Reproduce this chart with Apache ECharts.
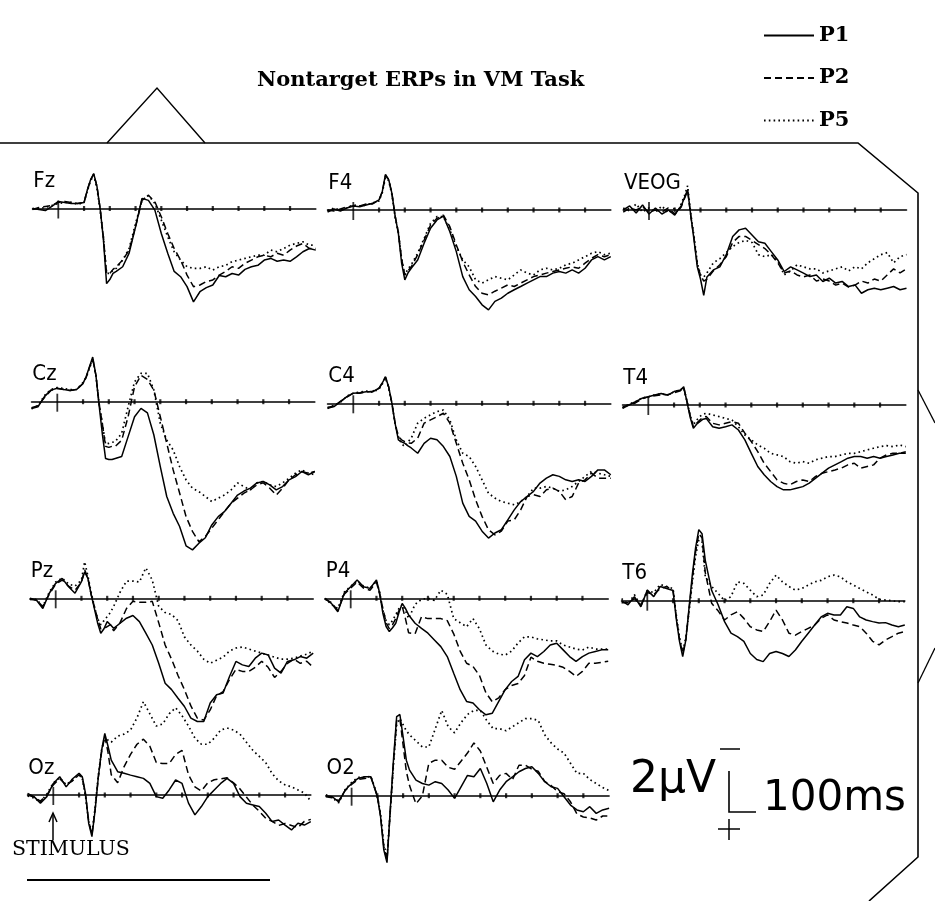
<!DOCTYPE html>
<html><head><meta charset="utf-8">
<script src="https://cdn.jsdelivr.net/npm/echarts@6/dist/echarts.min.js"></script>
<style>html,body{margin:0;padding:0;background:#fff}#c{width:935px;height:901px}</style>
</head><body><div id="c"></div>
<script>
// time (ms) of each sample
const times = [-100,-75,-50,-25,0,25,50,75,100,112.5,125,137.5,150,162.5,175,187.5,200,212.5,225,250,275,300,325,350,375,400,425,450,475,500,525,550,575,600,625,650,675,700,725,750,775,800,825,850,875,900,925,950,975,1000];
const tickTimes = [100,200,300,400,500,600,700,800,900];
const stimulusTime = [0];
const legendNames = ['P1','P2','P5'];

// amplitudes in microvolts (negative plotted upward)
const Fz_P1 = [0.0,0.05,0.1,-0.1,-0.35,-0.3,-0.25,-0.25,-0.3,-0.9,-1.4,-1.72,-1.1,0.0,1.5,3.7,3.5,3.2,3.1,2.87,2.2,0.9,-0.5,-0.4,0.08,1.23,2.2,3.1,3.36,3.85,4.6,4.1,3.9,3.77,3.3,3.36,3.2,3.28,3.0,2.87,2.8,2.54,2.46,2.6,2.54,2.6,2.38,2.13,1.97,2.05];
const Fz_P2 = [0.05,-0.05,-0.1,-0.15,-0.3,-0.35,-0.3,-0.25,-0.3,-0.9,-1.4,-1.7,-1.1,0.0,1.4,3.2,3.2,3.0,2.87,2.54,2.05,0.9,-0.4,-0.65,-0.33,0.41,1.23,1.97,2.54,3.28,3.85,3.77,3.6,3.52,3.28,3.1,2.87,2.95,2.7,2.54,2.38,2.3,2.38,2.2,2.3,2.05,1.85,1.72,1.97,1.97];
const Fz_P5 = [0.0,0.0,-0.05,-0.15,-0.25,-0.3,-0.3,-0.2,-0.3,-0.85,-1.35,-1.65,-1.0,0.1,1.4,3.2,3.2,3.05,2.95,2.54,1.97,0.74,-0.4,-0.65,-0.25,0.57,1.4,2.13,2.54,2.87,2.95,2.95,2.87,3.03,2.87,2.8,2.62,2.54,2.46,2.38,2.3,2.3,2.05,2.13,1.97,1.8,1.72,1.64,1.8,1.8];

const F4_P1 = [0.1,-0.05,0.05,-0.1,-0.2,-0.16,-0.25,-0.33,-0.5,-0.9,-1.75,-1.5,-0.82,0.3,1.15,2.6,3.44,3.1,2.87,2.46,1.64,0.9,0.49,0.3,1.07,2.05,3.28,3.93,4.26,4.67,4.92,4.5,4.34,4.1,3.93,3.77,3.6,3.44,3.28,3.28,3.11,3.03,3.11,2.95,3.11,2.87,2.46,2.3,2.46,2.3];
const F4_P2 = [0.0,0.05,-0.05,-0.15,-0.2,-0.2,-0.3,-0.3,-0.5,-0.9,-1.7,-1.5,-0.8,0.3,1.1,2.4,3.2,3.0,2.8,2.2,1.48,0.74,0.41,0.25,0.82,1.72,2.54,3.2,3.77,4.1,4.18,4.0,3.85,3.69,3.77,3.6,3.44,3.28,3.2,3.11,3.03,2.95,2.87,2.8,2.87,2.62,2.38,2.2,2.3,2.2];
const F4_P5 = [0.05,-0.1,0.0,-0.1,-0.25,-0.2,-0.25,-0.35,-0.45,-0.85,-1.6,-1.45,-0.75,0.35,1.1,2.4,3.2,2.9,2.7,2.13,1.4,0.66,0.33,0.33,0.98,1.8,2.46,2.8,3.44,3.6,3.44,3.28,3.36,3.44,3.2,2.95,3.11,3.2,2.95,2.87,2.95,2.87,2.7,2.62,2.46,2.3,2.13,2.05,2.2,2.13];

const VEOG_P1 = [0.0,-0.2,0.15,-0.25,0.2,-0.1,0.2,0.0,0.25,0.0,-0.2,-0.6,-1.0,0.3,1.5,2.8,3.4,4.2,3.3,2.95,2.8,2.2,1.31,0.98,0.9,1.23,1.56,1.64,2.05,2.46,3.03,2.8,2.95,3.11,3.28,3.2,3.52,3.36,3.6,3.52,3.77,3.69,4.1,3.93,3.85,3.93,3.85,3.77,3.93,3.85];
const VEOG_P2 = [0.1,-0.1,0.0,-0.15,0.1,0.0,0.1,-0.1,0.2,0.05,-0.15,-0.55,-0.95,0.3,1.4,2.7,3.2,3.5,3.4,3.0,2.7,2.3,1.6,1.3,1.3,1.5,1.7,1.9,2.2,2.6,3.1,3.0,3.2,3.3,3.2,3.5,3.4,3.5,3.7,3.6,3.8,3.7,3.5,3.6,3.4,3.5,3.2,2.9,3.1,2.9];
const VEOG_P5 = [-0.1,0.05,-0.3,0.1,-0.1,0.1,-0.2,0.15,-0.1,0.1,-0.3,-0.7,-1.2,0.2,1.3,2.6,3.2,3.3,3.1,2.6,2.4,2.1,1.8,1.6,1.5,1.6,2.2,2.3,2.2,2.5,3.2,3.0,2.7,2.8,2.9,2.9,3.1,3.0,2.9,2.8,3.0,2.8,2.9,2.6,2.4,2.2,2.1,2.6,2.3,2.2];

const Cz_P1 = [0.33,0.25,-0.25,-0.57,-0.66,-0.6,-0.55,-0.6,-0.9,-1.25,-1.72,-2.2,-1.3,0.2,1.6,2.8,2.85,2.85,2.8,2.7,1.72,0.74,0.33,0.55,1.64,3.2,4.67,5.5,6.15,7.1,7.3,6.97,6.7,6.07,5.66,5.4,5.0,4.6,4.4,4.26,4.0,3.93,4.1,4.34,4.18,3.85,3.69,3.44,3.6,3.44];
const Cz_P2 = [0.3,0.2,-0.2,-0.55,-0.65,-0.6,-0.55,-0.6,-0.9,-1.2,-1.7,-2.1,-1.3,0.1,1.1,2.2,2.25,2.2,2.2,1.9,0.74,-0.74,-1.3,-1.1,-0.57,0.74,2.05,3.36,4.5,5.66,6.39,6.9,6.64,6.23,5.82,5.4,5.0,4.75,4.5,4.34,4.1,4.0,4.26,4.6,4.26,3.85,3.6,3.44,3.52,3.44];
const Cz_P5 = [0.35,0.2,-0.3,-0.6,-0.7,-0.65,-0.6,-0.6,-0.95,-1.2,-1.65,-2.1,-1.3,0.1,1.1,2.1,2.05,2.0,1.97,1.56,0.25,-0.98,-1.4,-1.4,-0.57,1.07,1.89,2.38,3.2,3.85,4.26,4.43,4.67,4.92,4.75,4.59,4.34,4.0,4.18,4.34,4.0,3.93,4.1,4.18,4.0,3.77,3.52,3.36,3.52,3.6];

const C4_P1 = [0.25,0.16,-0.08,-0.33,-0.5,-0.52,-0.57,-0.57,-0.74,-1.0,-1.3,-0.8,0.0,1.0,1.8,1.9,1.97,2.1,2.2,2.46,1.97,1.72,1.8,2.13,2.62,3.6,4.92,5.57,5.8,6.3,6.64,6.39,6.23,5.74,5.25,4.84,4.59,4.34,3.93,3.69,3.52,3.6,3.77,3.85,3.77,3.85,3.6,3.28,3.28,3.52];
const C4_P2 = [0.2,0.15,-0.1,-0.3,-0.5,-0.5,-0.55,-0.6,-0.75,-1.0,-1.3,-0.8,0.0,1.0,1.64,1.8,1.89,1.95,1.97,1.72,0.98,0.82,0.66,0.49,0.98,1.97,2.95,3.77,4.75,5.57,6.23,6.48,6.3,5.8,5.74,5.25,4.59,4.5,4.59,4.26,4.18,4.34,4.75,4.59,3.93,3.77,3.44,3.69,3.69,3.69];
const C4_P5 = [0.25,0.1,-0.05,-0.35,-0.5,-0.55,-0.6,-0.55,-0.7,-0.95,-1.25,-0.75,0.05,1.0,1.64,2.0,2.13,1.9,1.72,0.98,0.74,0.57,0.41,0.33,0.82,1.8,2.46,2.62,3.11,3.77,4.43,4.67,4.84,4.92,5.0,4.84,4.59,4.18,4.18,4.1,4.18,4.34,4.26,4.1,3.85,3.6,3.36,3.44,3.52,3.6];

const T4_P1 = [0.16,0.0,-0.16,-0.33,-0.41,-0.49,-0.57,-0.49,-0.66,-0.7,-0.74,-0.9,-0.16,0.6,1.15,0.95,0.82,0.7,0.66,1.07,1.15,1.07,0.98,1.23,1.72,2.38,3.03,3.44,3.77,4.02,4.18,4.18,4.1,4.02,3.85,3.6,3.36,3.11,2.95,2.79,2.62,2.54,2.54,2.62,2.54,2.62,2.54,2.46,2.38,2.38];
const T4_P2 = [0.1,0.0,-0.1,-0.3,-0.4,-0.45,-0.5,-0.5,-0.6,-0.65,-0.7,-0.85,-0.2,0.5,1.07,0.9,0.74,0.6,0.57,0.9,0.98,0.9,0.82,0.9,1.39,1.8,2.3,2.87,3.28,3.69,3.85,3.93,3.77,3.69,3.77,3.52,3.36,3.28,3.2,3.11,2.95,2.87,3.11,3.03,2.95,2.62,2.46,2.38,2.38,2.3];
const T4_P5 = [0.15,-0.05,-0.15,-0.35,-0.4,-0.5,-0.55,-0.5,-0.65,-0.7,-0.75,-0.85,-0.2,0.5,0.98,0.75,0.57,0.45,0.41,0.49,0.57,0.66,0.74,1.07,1.48,1.72,1.97,2.13,2.38,2.46,2.54,2.79,2.87,2.79,2.87,2.7,2.62,2.54,2.54,2.46,2.38,2.38,2.3,2.21,2.13,2.05,2.0,2.05,1.97,2.05];

const Pz_P1 = [0.0,0.08,0.5,-0.25,-0.74,-0.98,-0.57,-0.25,-0.82,-1.3,-0.98,-0.2,0.5,1.2,1.72,1.5,1.15,1.3,1.48,1.23,0.98,0.85,1.15,1.72,2.3,3.2,4.18,4.5,4.92,5.33,5.9,6.07,6.07,5.16,4.75,4.67,3.85,3.11,3.28,3.36,2.95,2.7,2.79,3.44,3.69,3.11,3.03,2.87,2.95,2.7];
const Pz_P2 = [0.05,0.1,0.4,-0.2,-0.7,-0.9,-0.6,-0.4,-0.8,-1.4,-1.0,-0.2,0.4,1.0,1.5,1.5,1.4,1.3,1.6,1.2,0.5,0.15,0.2,0.2,0.15,1.2,2.3,3.0,3.8,4.5,5.3,5.9,6.0,5.5,4.8,4.6,4.0,3.5,3.6,3.6,3.4,3.1,3.4,3.9,3.6,3.2,3.0,3.2,3.1,3.4];
const Pz_P5 = [0.05,0.05,0.4,-0.3,-0.8,-1.0,-0.7,-0.6,-0.9,-1.8,-1.1,-0.3,0.4,1.0,1.3,1.1,0.9,0.7,0.4,-0.3,-0.85,-0.85,-0.8,-1.5,-0.9,0.4,0.7,0.8,1.1,1.9,2.3,2.6,3.0,3.2,3.05,2.9,2.6,2.45,2.4,2.5,2.6,2.7,2.8,2.9,3.0,3.0,2.95,2.85,2.75,2.6];

const P4_P1 = [0.0,0.25,0.66,-0.25,-0.57,-0.9,-0.57,-0.49,-0.9,-0.25,0.74,1.39,1.64,1.45,1.23,0.7,0.25,0.5,0.82,1.23,1.48,1.72,2.05,2.38,2.87,3.69,4.5,5.08,5.16,5.49,5.74,5.66,5.08,4.5,4.1,3.85,3.03,2.7,2.87,2.62,2.3,2.21,2.54,2.87,3.11,2.87,2.7,2.62,2.54,2.54];
const P4_P2 = [0.05,0.2,0.6,-0.2,-0.5,-0.8,-0.5,-0.4,-0.8,-0.2,0.5,1.2,1.5,1.3,1.0,0.6,0.4,1.0,1.7,1.75,0.9,1.0,1.0,1.0,1.1,1.75,2.6,3.2,3.36,3.8,4.65,5.1,4.9,4.5,4.3,4.2,3.8,2.9,3.1,3.2,3.25,3.3,3.4,3.6,3.85,3.6,3.2,3.2,3.15,3.1];
const P4_P5 = [0.0,0.3,0.5,-0.3,-0.6,-0.85,-0.6,-0.5,-0.85,-0.3,0.6,1.1,1.3,1.1,0.8,0.5,0.3,0.6,1.0,0.3,0.05,0.0,0.1,-0.4,-0.2,1.0,1.2,1.4,1.0,1.5,2.3,2.6,2.75,2.8,2.6,2.2,1.9,1.9,2.0,2.05,2.1,2.1,2.3,2.4,2.5,2.55,2.4,2.5,2.5,2.5];

const T6_P1 = [0.0,0.2,-0.2,0.3,-0.52,-0.2,-0.7,-0.6,-0.5,0.9,2.0,2.75,1.9,0.3,-1.3,-2.6,-3.5,-3.3,-2.0,-0.5,0.2,1.03,1.6,1.77,2.0,2.6,2.9,3.0,2.6,2.5,2.6,2.75,2.43,2.0,1.6,1.2,0.8,0.62,0.7,0.7,0.3,0.38,0.8,0.95,1.03,1.1,1.08,1.2,1.28,1.2];
const T6_P2 = [0.1,0.1,-0.1,0.2,-0.4,-0.3,-0.6,-0.7,-0.5,0.8,1.9,2.6,1.9,0.4,-1.1,-2.4,-3.3,-3.1,-1.4,0.13,0.5,0.95,0.7,0.54,0.87,1.28,1.44,1.52,1.03,0.46,0.95,1.6,1.7,1.52,1.36,1.2,0.87,0.7,0.95,1.03,1.1,1.2,1.28,1.6,2.0,2.18,1.93,1.77,1.6,1.52];
const T6_P5 = [-0.1,0.15,-0.3,0.25,-0.5,-0.4,-0.8,-0.7,-0.6,0.7,1.8,2.5,1.8,0.5,-0.9,-2.2,-3.0,-2.9,-1.2,-0.7,-0.36,0.0,-0.2,-0.93,-0.85,-0.52,-0.2,-0.28,-0.85,-1.26,-0.93,-0.7,-0.52,-0.6,-0.77,-0.93,-1.0,-1.18,-1.26,-1.18,-0.93,-0.77,-0.6,-0.44,-0.28,-0.07,-0.03,0.0,0.05,0.05];

const Oz_P1 = [-0.08,0.08,0.4,0.08,-0.57,-0.9,-0.4,-0.8,-1.07,-0.9,-0.08,1.4,2.05,0.74,-0.9,-2.2,-3.03,-2.4,-1.72,-1.15,-1.07,-0.98,-0.9,-0.82,-0.57,0.08,0.16,-0.25,-0.74,-0.57,0.4,0.98,0.57,0.08,-0.25,-0.57,-0.82,-0.57,0.08,0.41,0.49,0.57,0.9,1.31,1.23,1.48,1.72,1.39,1.48,1.31];
const Oz_P2 = [0.0,0.1,0.3,0.0,-0.5,-0.8,-0.5,-0.7,-1.0,-0.85,0.0,1.3,1.95,0.7,-0.9,-2.1,-2.9,-2.1,-1.0,-0.6,-1.4,-2.0,-2.5,-2.75,-2.4,-1.6,-1.55,-1.55,-2.0,-2.2,-1.0,-0.4,-0.2,-0.6,-0.75,-0.8,-0.85,-0.6,-0.3,0.1,0.5,0.8,1.15,1.3,1.5,1.4,1.5,1.6,1.3,1.2];
const Oz_P5 = [0.05,0.15,0.35,-0.05,-0.6,-0.85,-0.5,-0.75,-1.0,-0.8,0.05,1.3,1.9,0.6,-1.0,-2.2,-2.9,-2.7,-2.6,-2.9,-3.0,-3.2,-3.8,-4.6,-4.0,-3.4,-3.5,-4.0,-4.3,-3.9,-3.4,-2.8,-2.5,-2.5,-2.8,-3.2,-3.3,-3.2,-3.0,-2.6,-2.2,-1.9,-1.6,-1.05,-0.7,-0.5,-0.4,-0.25,-0.1,0.3];

const O2_P1 = [0.0,0.05,0.3,-0.28,-0.6,-0.85,-0.93,-0.93,0.05,1.03,2.67,3.3,0.7,-1.75,-3.9,-4.0,-2.9,-1.75,-1.26,-0.77,-0.6,-0.52,-0.69,-0.6,-0.28,0.13,-0.44,-1.0,-0.93,-1.34,-0.6,0.3,-0.28,-0.69,-0.93,-1.18,-1.34,-1.43,-1.1,-0.69,-0.44,-0.36,0.05,0.46,0.7,0.79,0.54,0.87,0.7,0.62];
const O2_P2 = [0.05,0.1,0.25,-0.25,-0.55,-0.8,-0.85,-0.9,0.0,1.0,2.5,3.2,0.8,-1.6,-3.7,-3.8,-2.5,-1.2,-0.5,0.4,0.0,-1.6,-1.75,-1.75,-1.4,-1.3,-1.7,-2.1,-2.6,-2.2,-1.4,-0.6,-1.0,-1.1,-0.8,-1.5,-1.5,-1.3,-1.2,-0.7,-0.5,-0.2,-0.1,0.3,0.9,1.05,1.1,1.2,1.0,1.0];
const O2_P5 = [-0.05,0.1,0.35,-0.3,-0.65,-0.9,-0.9,-0.95,0.0,0.9,2.4,3.0,0.8,-1.5,-3.5,-3.8,-3.5,-3.2,-3.0,-2.7,-2.4,-2.4,-3.3,-4.2,-3.4,-3.1,-3.6,-4.0,-4.2,-4.2,-3.7,-3.3,-3.3,-3.2,-3.4,-3.6,-3.8,-3.8,-3.7,-3.0,-2.6,-2.3,-2.1,-1.6,-1.1,-1.1,-0.8,-0.6,-0.4,-0.25];

// ---------- layout ----------
const PX_MS = 0.2575, PX_UV = 20.3;
const TMIN = -100, TMAX = 1000, YMIN = -5, YMAX = 5;
const panels = [
  {name:'Fz',   d:[Fz_P1,Fz_P2,Fz_P5],       sx:58.3,  by:208.5},
  {name:'F4',   d:[F4_P1,F4_P2,F4_P5],       sx:353.3, by:210},
  {name:'VEOG', d:[VEOG_P1,VEOG_P2,VEOG_P5], sx:649,   by:210},
  {name:'Cz',   d:[Cz_P1,Cz_P2,Cz_P5],       sx:57.3,  by:401.7},
  {name:'C4',   d:[C4_P1,C4_P2,C4_P5],       sx:353.3, by:403.3},
  {name:'T4',   d:[T4_P1,T4_P2,T4_P5],       sx:648.3, by:405},
  {name:'Pz',   d:[Pz_P1,Pz_P2,Pz_P5],       sx:55.7,  by:598.3},
  {name:'P4',   d:[P4_P1,P4_P2,P4_P5],       sx:350.7, by:598.3},
  {name:'T6',   d:[T6_P1,T6_P2,T6_P5],       sx:647.3, by:600.7},
  {name:'Oz',   d:[Oz_P1,Oz_P2,Oz_P5],       sx:53.3,  by:795},
  {name:'O2',   d:[O2_P1,O2_P2,O2_P5],       sx:351.6, by:795.7}
];
const lineTypes = ['solid',[7,4],[1.6,3.2]];

const grids = [], xAxes = [], yAxes = [], series = [], graphics = [];
panels.forEach((p,i)=>{
  grids.push({left:p.sx + TMIN*PX_MS, top:p.by + YMIN*PX_UV, width:(TMAX-TMIN)*PX_MS, height:(YMAX-YMIN)*PX_UV, containLabel:false});
  xAxes.push({type:'value', gridIndex:i, min:TMIN, max:TMAX,
    axisLine:{show:true, onZero:true, lineStyle:{color:'#000', width:1.6}},
    axisTick:{show:false}, axisLabel:{show:false}, splitLine:{show:false}});
  yAxes.push({type:'value', gridIndex:i, min:YMIN, max:YMAX, inverse:true,
    axisLine:{show:false}, axisTick:{show:false}, axisLabel:{show:false}, splitLine:{show:false}});
  p.d.forEach((arr,k)=>{
    series.push({type:'line', name:legendNames[k], xAxisIndex:i, yAxisIndex:i, clip:false,
      data: times.map((t,j)=>[t, arr[j]]), symbol:'none', showSymbol:false, silent:true, z:3,
      itemStyle:{color:'#000'},
      lineStyle:{color:'#000', width:k===2?1.7:1.5, type:lineTypes[k]}});
  });
  series.push({type:'scatter', xAxisIndex:i, yAxisIndex:i, silent:true, z:4,
    data: tickTimes.map(t=>[t,0]), symbol:'rect', symbolSize:[2.2,5], itemStyle:{color:'#000'}});
  series.push({type:'scatter', xAxisIndex:i, yAxisIndex:i, silent:true, z:4,
    data: stimulusTime.map(t=>[t,0]), symbol:'rect', symbolSize:[1.8,18], symbolOffset:[0,1], itemStyle:{color:'#000'}});
  graphics.push({type:'text', x:p.sx-25, y:p.by-16, silent:true,
    style:{text:p.name, font:'22px "DejaVu Sans Condensed", sans-serif', fill:'#000', verticalAlign:'bottom'}});
});

const line = (pts,w)=>({type:'polyline', silent:true, shape:{points:pts}, style:{stroke:'#000', lineWidth:w||1.5, fill:null}});
graphics.push(
  line([[0,143],[858,143],[918,193],[918,857],[869,901]],1.6),
  line([[107,143],[157,88],[205,143]],1.4),
  line([[918,390],[935,423]],1.3),
  line([[918,683],[935,648]],1.3),
  line([[27,880],[270,880]],2.2),
  // stimulus arrow
  line([[53,840],[53,814]],1.5),
  line([[49,822],[53,813],[57,822]],1.5),
  {type:'text', x:12, y:850, silent:true, style:{text:'STIMULUS', font:'20.5px "DejaVu Serif", serif', fill:'#000', verticalAlign:'middle'}},
  // calibration
  line([[729,771],[729,812],[756,812]],1.6),
  line([[720,749],[740,749]],1.5),
  line([[718,829],[740,829]],1.5),
  line([[729,819],[729,840]],1.5),
  {type:'text', x:630, y:803, silent:true, style:{text:'2\u03bcV', font:'44px "DejaVu Sans", sans-serif', fill:'#000', verticalAlign:'bottom'}},
  {type:'text', x:763, y:820, silent:true, style:{text:'100ms', font:'42px "DejaVu Sans", sans-serif', fill:'#000', verticalAlign:'bottom'}}
);

const chart = echarts.init(document.getElementById('c'), null, {renderer:'canvas'});
chart.setOption({
  animation:false,
  backgroundColor:'#fff',
  title:{text:'Nontarget ERPs in VM Task', left:252, top:65,
    textStyle:{fontFamily:'"DejaVu Serif", serif', fontSize:21, fontWeight:'bold', color:'#000'}},
  legend:{data:legendNames, orient:'vertical', left:758, top:20, itemWidth:50, itemHeight:14, itemGap:21.5,
    selectedMode:false, itemStyle:{opacity:0},
    textStyle:{fontFamily:'"DejaVu Serif", serif', fontSize:21, fontWeight:'bold', color:'#000'}},
  grid:grids, xAxis:xAxes, yAxis:yAxes, series:series, graphic:graphics
});
</script></body></html>
